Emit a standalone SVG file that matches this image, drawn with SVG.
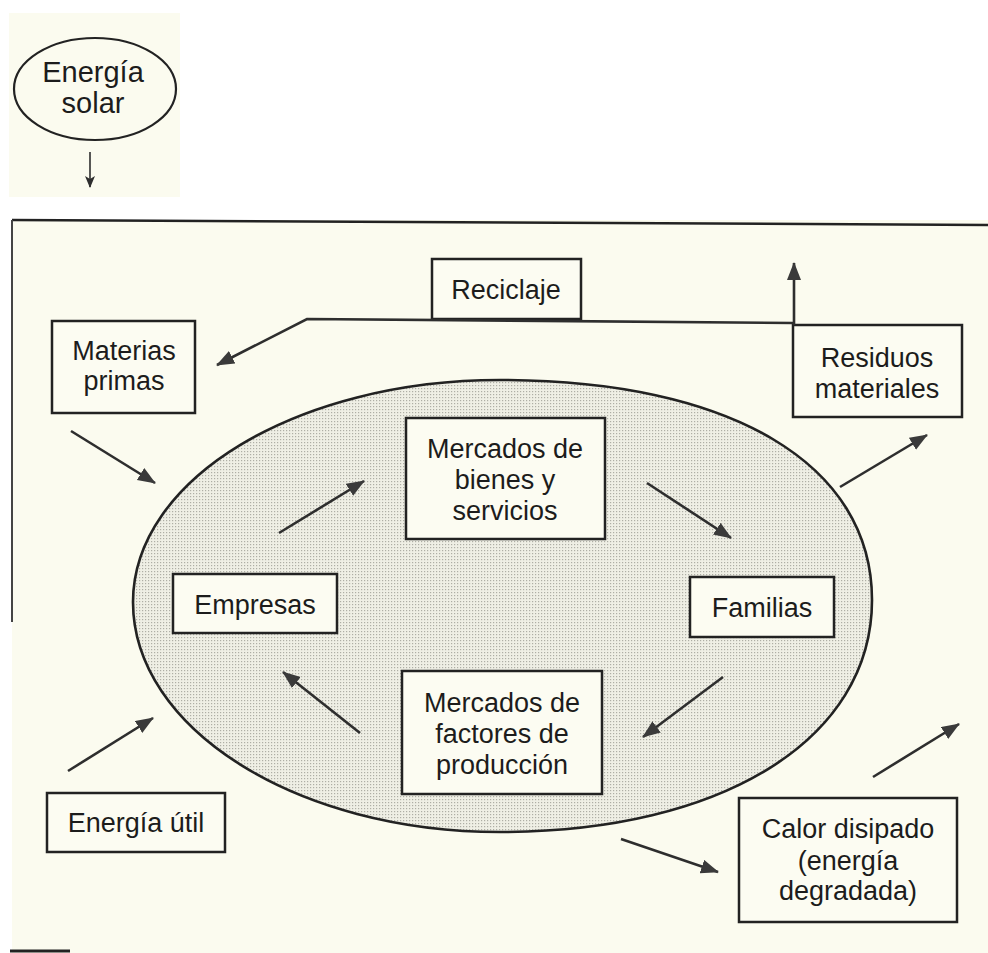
<svg xmlns="http://www.w3.org/2000/svg" width="988" height="953" viewBox="0 0 988 953">
<defs>
<style>
.box{fill:#fcfcf2;stroke:#222;stroke-width:2.5}
.t{font-family:"Liberation Sans",Arial,sans-serif;font-size:27px;fill:#1c1c1c;text-anchor:middle}
.c{fill:none;stroke:#2e2e2e;stroke-width:2.6;marker-end:url(#ah)}
</style>
<marker id="ah" markerUnits="userSpaceOnUse" markerWidth="20" markerHeight="16" refX="17" refY="7" orient="auto">
<path d="M0,0 L18,7 L0,14 Z" fill="#3a3a3a"/>
</marker>
<marker id="ahs" markerUnits="userSpaceOnUse" markerWidth="14" markerHeight="12" refX="11" refY="5" orient="auto">
<path d="M0,0 L12,5 L0,10 L3,5 Z" fill="#2e2e2e"/>
</marker>
<pattern id="dots" width="3" height="3" patternUnits="userSpaceOnUse">
<rect width="3" height="3" fill="#efefe5"/>
<rect x="1" y="1" width="1.2" height="1.2" fill="#aeaea5"/>
</pattern>
</defs>
<rect width="988" height="953" fill="#ffffff"/>
<rect x="9" y="13" width="171" height="184" fill="#fbfbef"/>
<rect x="12" y="220" width="976" height="733" fill="#fbfbef"/>
<path d="M12,220 L988,225" stroke="#222" stroke-width="2.5" fill="none"/>
<path d="M12,220 L12,622" stroke="#444" stroke-width="2" fill="none"/>
<path d="M10,951 L70,951" stroke="#222" stroke-width="3" fill="none"/>

<g id="economia">
<path d="M500,380 C731,380 872,464 872,600 C872,739 723,832 500,832 C297,832 133,729 133,602 C133,479 297,380 500,380 Z" fill="url(#dots)" stroke="#222" stroke-width="2.6"/>
</g>

<g id="energia-solar">
<ellipse cx="95" cy="89" rx="81" ry="51" fill="none" stroke="#222" stroke-width="2.2"/>
<text class="t" x="93" y="82" style="font-size:29px">Energía</text>
<text class="t" x="93" y="113" style="font-size:29px">solar</text>
</g>

<g id="reciclaje">
<rect class="box" x="432" y="259" width="149" height="60"/>
<text class="t" x="506" y="299">Reciclaje</text>
</g>

<g id="materias-primas">
<rect class="box" x="52" y="321" width="143" height="92"/>
<text class="t" x="124" y="360">Materias</text>
<text class="t" x="124" y="390">primas</text>
</g>

<g id="residuos-materiales">
<rect class="box" x="793" y="325" width="169" height="92"/>
<text class="t" x="877" y="367">Residuos</text>
<text class="t" x="877" y="398">materiales</text>
</g>

<g id="mercados-bienes">
<rect class="box" x="406" y="418" width="199" height="121"/>
<text class="t" x="505" y="458">Mercados de</text>
<text class="t" x="505" y="489">bienes y</text>
<text class="t" x="505" y="520">servicios</text>
</g>

<g id="empresas">
<rect class="box" x="173" y="574" width="164" height="59"/>
<text class="t" x="255" y="614">Empresas</text>
</g>

<g id="familias">
<rect class="box" x="690" y="577" width="144" height="60"/>
<text class="t" x="762" y="617">Familias</text>
</g>

<g id="mercados-factores">
<rect class="box" x="402" y="671" width="200" height="123"/>
<text class="t" x="502" y="712">Mercados de</text>
<text class="t" x="502" y="743">factores de</text>
<text class="t" x="502" y="774">producción</text>
</g>

<g id="energia-util">
<rect class="box" x="47" y="793" width="178" height="59"/>
<text class="t" x="136" y="832">Energía útil</text>
</g>

<g id="calor-disipado">
<rect class="box" x="739" y="798" width="218" height="124"/>
<text class="t" x="848" y="838">Calor disipado</text>
<text class="t" x="848" y="870">(energía</text>
<text class="t" x="848" y="900">degradada)</text>
</g>

<g id="connectors">
<path d="M90,152 L90,187" fill="none" stroke="#2e2e2e" stroke-width="1.6" marker-end="url(#ahs)"/>
<path class="c" d="M793,323 L307,319 L217,365"/>
<path class="c" d="M794,325 L794,263"/>
<path class="c" d="M71,431 L155,483"/>
<path class="c" d="M279,533 L364,481"/>
<path class="c" d="M647,483 L731,538"/>
<path class="c" d="M840,487 L927,435"/>
<path class="c" d="M723,677 L643,737"/>
<path class="c" d="M360,733 L283,672"/>
<path class="c" d="M68,771 L153,718"/>
<path class="c" d="M621,839 L718,872"/>
<path class="c" d="M873,777 L959,724"/>
</g>
</svg>
